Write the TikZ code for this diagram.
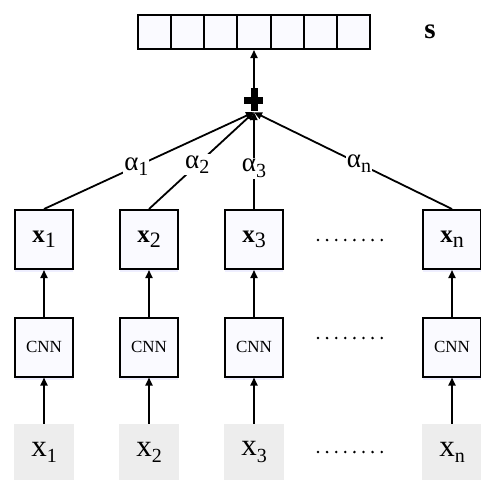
\documentclass[tikz,border=0pt]{standalone}
\usepackage{fontspec}
\setmainfont{Liberation Serif}
\usetikzlibrary{arrows.meta,shadows}

\tikzset{
  hidbox/.style={draw, line width=2pt, minimum width=58pt, minimum height=59pt,
    inner sep=0pt, fill=blue!2,
    drop shadow={shadow xshift=0pt, shadow yshift=-3pt, fill=blue!12, opacity=0.5}},
  inbox/.style={fill=black!7, minimum width=60pt, minimum height=56pt, inner sep=0pt},
  cell/.style={draw, line width=2pt, minimum width=33.14pt, minimum height=34pt,
    inner sep=0pt, fill=blue!2},
  arr/.style={-{Triangle[length=8pt,width=7pt]}, line width=1.8pt},
  wt/.style={fill=white, inner sep=1pt, font=\fontsize{27}{29}\selectfont},
}
\newcommand\lowidx[2]{\raisebox{-0.2em}{\fontsize{#1}{#1}\selectfont #2}}

\begin{document}
\begin{tikzpicture}[x=1pt, y=-1pt]
  \useasboundingbox (0,0) rectangle (481,480);

  %% Input tokens
  \foreach \i/\xx/\lab in {1/44/1, 2/149/2, 3/254/3, n/452/n}
    \node[inbox] (in\i) at (\xx,452)
      {\fontsize{31}{33}\selectfont x\lowidx{20}{\lab}};

  %% CNN encoders
  \foreach \i/\xx in {1/44, 2/149, 3/254, n/452}
    \node[hidbox] (cnn\i) at (\xx,347) {\fontsize{17}{19}\selectfont CNN};

  %% Sentence vectors
  \foreach \i/\xx/\lab in {1/44/1, 2/149/2, 3/254/3, n/452/n}
    \node[hidbox] (hid\i) at (\xx,239.5)
      {\fontsize{25}{27}\selectfont\textbf{x}\lowidx{22}{\lab}};

  % input -> CNN -> x
  \foreach \i in {1,2,3,n} {
    \draw[arr] (in\i) -- (cnn\i);
    \draw[arr] (cnn\i) -- (hid\i);
  }

  % dots
  \foreach \yy in {240,338,452}
    \foreach \k in {0,...,7}
      \fill (318+\k*9.1,\yy) circle (1.4pt);

  %% Weighted sum
  \node[minimum width=20pt, minimum height=24pt, inner sep=0pt] (plus) at (254,100) {};
  \fill (plus.center) +(-3.5,-12) rectangle +(3.5,11);
  \fill (plus.center) +(-10,-3) rectangle +(9,3.5);

  \draw[arr] (hid1.north) -- node[wt, pos=0.44] (a1) {α\lowidx{20}{1}} (plus.south);
  \draw[arr] (hid2.north) -- node[wt, pos=0.46] (a2) {α\lowidx{20}{2}} (plus.south);
  \draw[arr] (hid3.north) -- node[wt, pos=0.42] (a3) {α\lowidx{20}{3}} (plus.south);
  \draw[arr] (hidn.north) -- node[wt, pos=0.47] (an) {α\lowidx{20}{n}} (plus.south);

  %% Output vector s
  \foreach \k in {1,...,7}
    \node[cell] (c\k) at ({138+33.14*(\k-0.5)},32) {};
  \draw[arr] (plus.north) -- (c4.south);
  \node (svec) at (430,32) {\fontsize{29}{31}\selectfont\textbf{s}};
\end{tikzpicture}
\end{document}
